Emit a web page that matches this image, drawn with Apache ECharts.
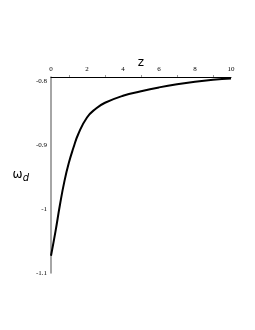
<!DOCTYPE html>
<html><head><meta charset="utf-8">
<script src="https://cdn.jsdelivr.net/npm/echarts@6/dist/echarts.min.js"></script>
<style>html,body{margin:0;padding:0;background:#fff}#c{width:255px;height:330px}</style>
</head><body><div id="c"></div>
<script>
const zValues = [0, 0.25, 0.5, 0.75, 1.0, 1.25, 1.5, 2.0, 2.5, 3.0, 4.0, 5.0, 6.0, 7.0, 8.0, 9.0, 10.0];
const omegaValues = [-1.073, -1.035, -0.993, -0.956, -0.927, -0.904, -0.884, -0.857, -0.843, -0.834, -0.823, -0.816, -0.810, -0.805, -0.801, -0.798, -0.796];
const xTicks = [0, 2, 4, 6, 8, 10];
const yTicks = [-1.1, -1, -0.9, -0.8];

const chart = echarts.init(document.getElementById('c'));
chart.setOption({
  animation: false,
  grid: {left: 51, right: 24, top: 77, bottom: 57},
  xAxis: {
    type: 'value', position: 'top', min: 0, max: 10, interval: 2,
    name: 'z', nameLocation: 'middle', nameGap: 8, nameMoveOverlap: false,
    nameTextStyle: {fontFamily: 'DejaVu Sans', fontSize: 12, color: '#000'},
    axisLine: {onZero: false, lineStyle: {color: '#000', width: 1}},
    axisTick: {show: false},
    minorTick: {show: true, splitNumber: 2, length: 2, lineStyle: {color: '#999'}},
    splitLine: {show: false},
    axisLabel: {fontFamily: 'Liberation Serif', fontSize: 7, color: '#000', margin: 4,
      formatter: v => xTicks.includes(v) ? String(v) : ''}
  },
  yAxis: {
    type: 'value', min: -1.1, max: -0.79375, interval: 0.1,
    name: '{w|ω}{d|d}', nameLocation: 'middle', nameRotate: 0, nameGap: 22, nameMoveOverlap: false,
    nameTextStyle: {rich: {
      w: {fontFamily: 'DejaVu Sans', fontSize: 12, color: '#000'},
      d: {fontFamily: 'DejaVu Sans', fontStyle: 'italic', fontSize: 10, color: '#000', verticalAlign: 'bottom', padding: [6, 0, 0, 0]}
    }},
    axisLine: {onZero: false, lineStyle: {color: '#888', width: 1.5}},
    axisTick: {show: false},
    splitLine: {show: false},
    axisLabel: {fontFamily: 'Liberation Serif', fontSize: 7, color: '#000', margin: 4, showMaxLabel: false,
      formatter: v => {
        const r = Math.round(v * 10) / 10;
        return yTicks.some(t => Math.abs(t - v) < 1e-6) ? String(r) : '';
      }}
  },
  series: [{
    type: 'line', smooth: true, symbol: 'none',
    lineStyle: {color: '#000', width: 2},
    data: zValues.map((z, i) => [z, omegaValues[i]])
  }]
});
</script></body></html>
